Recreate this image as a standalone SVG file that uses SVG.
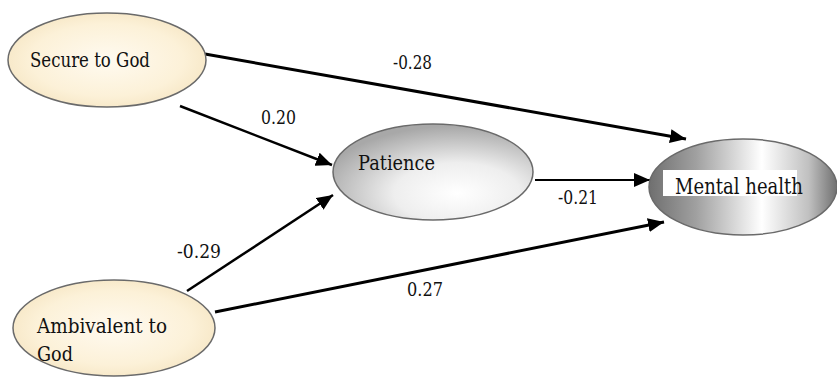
<svg xmlns="http://www.w3.org/2000/svg" width="837" height="378" viewBox="0 0 837 378">
<defs>
<radialGradient id="cream" cx="0.5" cy="0.5" r="0.55">
<stop offset="0" stop-color="#fffaf0"/>
<stop offset="0.7" stop-color="#fcf1d8"/>
<stop offset="1" stop-color="#f6e6c4"/>
</radialGradient>
<radialGradient id="pat" cx="0.62" cy="0.72" r="0.7">
<stop offset="0" stop-color="#ffffff"/>
<stop offset="0.45" stop-color="#eeeeee"/>
<stop offset="1" stop-color="#a8a8a8"/>
</radialGradient>
<linearGradient id="mh" x1="0" y1="0" x2="1" y2="0">
<stop offset="0" stop-color="#6f6f6f"/>
<stop offset="0.25" stop-color="#a0a0a0"/>
<stop offset="0.6" stop-color="#ffffff"/>
<stop offset="0.85" stop-color="#c0c0c0"/>
<stop offset="1" stop-color="#707070"/>
</linearGradient>
<marker id="ah" markerUnits="userSpaceOnUse" markerWidth="18" markerHeight="14" refX="16" refY="7" orient="auto">
<path d="M0,0 L16,7 L0,14 z" fill="#000"/>
</marker>
</defs>
<style>
.node{stroke:#6a6a6a;stroke-width:1.5}
.edge{stroke:#000;fill:none;marker-end:url(#ah)}
</style>
<rect width="837" height="378" fill="#fff"/>
<g id="connectors" font-family="DejaVu Serif, serif" font-size="19" fill="#111">
<line class="edge" x1="205" y1="54" x2="686" y2="139" stroke-width="3"/>
<line class="edge" x1="180" y1="106" x2="332" y2="165" stroke-width="2.5"/>
<line class="edge" x1="535" y1="180" x2="650" y2="180" stroke-width="2"/>
<line class="edge" x1="187" y1="291" x2="333" y2="195" stroke-width="2.5"/>
<line class="edge" x1="215" y1="312" x2="664" y2="222" stroke-width="3"/>
<text x="393" y="69" textLength="39" lengthAdjust="spacingAndGlyphs">-0.28</text>
<text x="261" y="124" textLength="35" lengthAdjust="spacingAndGlyphs">0.20</text>
<text x="558" y="204" textLength="40" lengthAdjust="spacingAndGlyphs">-0.21</text>
<text x="177" y="258" textLength="44" lengthAdjust="spacingAndGlyphs">-0.29</text>
<text x="407" y="296" textLength="36" lengthAdjust="spacingAndGlyphs">0.27</text>
</g>
<g font-family="DejaVu Serif, serif" font-size="21" fill="#111">
<g id="secure">
<ellipse class="node" cx="107" cy="60" rx="99" ry="47" fill="url(#cream)"/>
<text x="30" y="67" textLength="120" lengthAdjust="spacingAndGlyphs">Secure to God</text>
</g>
<g id="patience">
<ellipse class="node" cx="433" cy="172" rx="100" ry="48" fill="url(#pat)"/>
<text x="358" y="170" textLength="77" lengthAdjust="spacingAndGlyphs">Patience</text>
</g>
<g id="mental">
<ellipse class="node" cx="743" cy="187" rx="94" ry="48" fill="url(#mh)"/>
<rect x="663" y="170" width="134" height="26" fill="#fff"/>
<text x="675" y="194" font-size="23" textLength="128" lengthAdjust="spacingAndGlyphs">Mental health</text>
</g>
<g id="ambivalent">
<ellipse class="node" cx="114" cy="328" rx="101" ry="48" fill="url(#cream)"/>
<text x="37" y="333" textLength="130" lengthAdjust="spacingAndGlyphs">Ambivalent to</text>
<text x="37" y="361" textLength="36" lengthAdjust="spacingAndGlyphs">God</text>
</g>
</g>
</svg>
